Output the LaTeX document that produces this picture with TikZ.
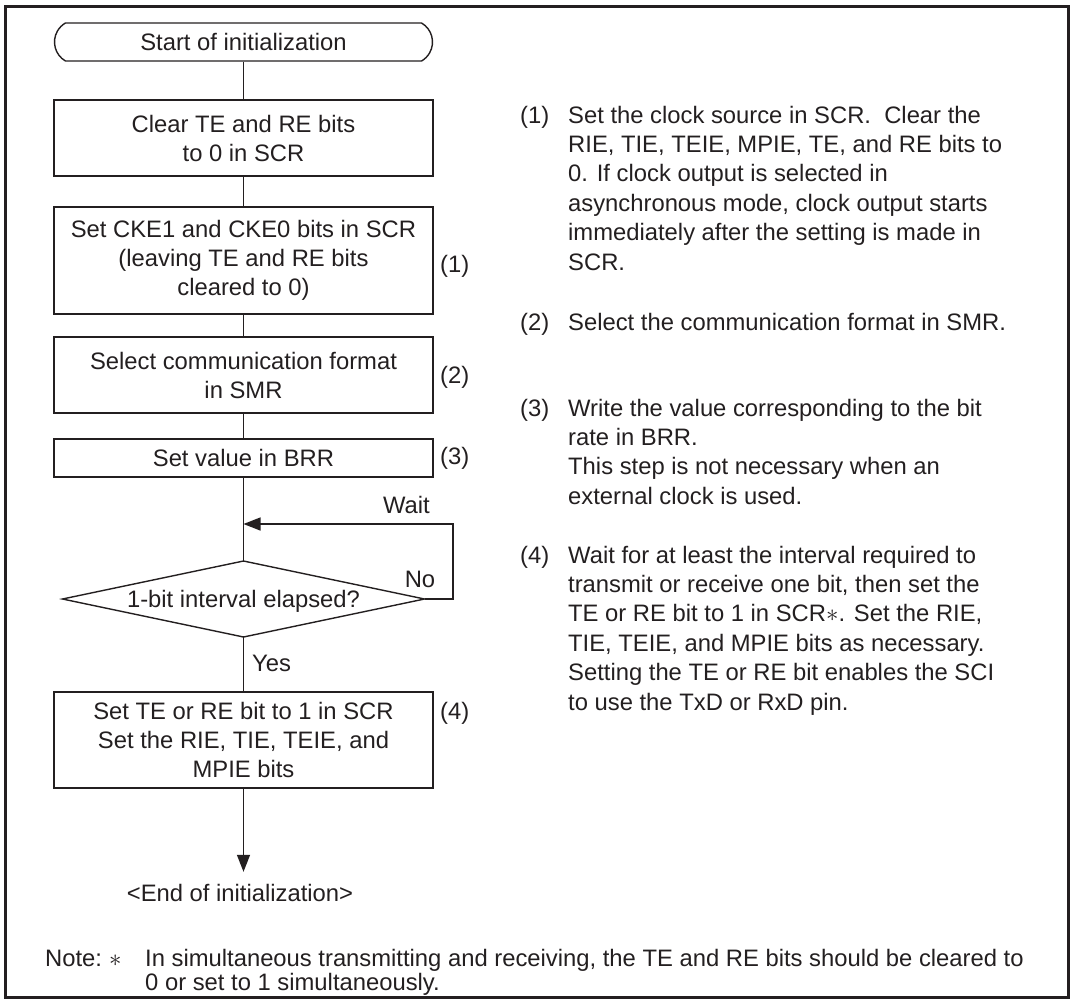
\documentclass[tikz,border=0pt]{standalone}
\usepackage{fontspec}
\setmainfont{Liberation Sans}
\usetikzlibrary{arrows.meta,shapes.misc}
\definecolor{ink}{RGB}{35,31,32}
\begin{document}
\begin{tikzpicture}[x=1pt,y=-1pt,
  txt/.style={font=\fontsize{23.8}{29}\selectfont, text=ink, inner sep=0pt},
  box/.style={txt, draw=ink, line width=1.4pt, minimum width=379pt, align=center},
  conn/.style={draw=ink, line width=1.4pt},
  arr/.style={conn, -{Triangle[length=17pt,width=13pt]}},
  rl/.style={txt, anchor=base west}]
\useasboundingbox (0,0) rectangle (1074,1002);
\draw[ink, line width=3pt] (5,6) rectangle (1068,997);

% flowchart
\node[box, rounded rectangle, rounded rectangle arc length=120, minimum width=378pt, minimum height=38pt] (start) at (243.5,42) {Start of initialization};
\node[box, minimum height=76pt] (b1) at (243.5,138) {Clear TE and RE bits\\to 0 in SCR};
\node[box, minimum height=107pt] (b2) at (243.5,260.5) {Set CKE1 and CKE0 bits in SCR\\(leaving TE and RE bits\\cleared to 0)};
\node[box, minimum height=76pt] (b3) at (243.5,375) {Select communication format\\in SMR};
\node[box, minimum height=38pt] (b4) at (243.5,458) {Set value in BRR};
\node[txt] (dec) at (243.5,601) {1-bit interval elapsed?};
\coordinate (dT) at (243.5,561);
\coordinate (dB) at (243.5,637);
\coordinate (dL) at (62.5,599);
\coordinate (dR) at (424.5,599);
\draw[conn] (dL) -- (dT) -- (dR) -- (dB) -- cycle;
\node[box, minimum height=96pt] (b5) at (243.5,740) {Set TE or RE bit to 1 in SCR\\Set the RIE, TIE, TEIE, and\\MPIE bits};
\node[txt, minimum height=42pt] (end) at (240,893) {<End of initialization>};

\draw[conn] (start.south) -- (b1.north);
\draw[conn] (b1.south) -- (b2.north);
\draw[conn] (b2.south) -- (b3.north);
\draw[conn] (b3.south) -- (b4.north);
\draw[conn] (b4.south) -- (dT);
\draw[conn] (dB) -- (b5.north);
\draw[arr] (b5.south) -- (b5.south |- end.north);
\coordinate (lp) at (453,524);
\draw[arr] (dR) -- (dR -| lp) -- (lp) -- (lp -| dT);

% flow labels
\node[txt, anchor=west] (n1) at (440,266) {(1)};
\node[txt, anchor=west] (n2) at (440,377) {(2)};
\node[txt, anchor=west] (n3) at (440,458) {(3)};
\node[txt, anchor=west] (n4) at (440,713) {(4)};
\node[txt, anchor=east] (wait) at (430,505) {Wait};
\node[txt] (no) at (420,579) {No};
\node[txt, anchor=west] (yes) at (252,663) {Yes};

% right-hand explanations
\node[rl] (r1) at (520,123) {(1)};
\foreach \t [count=\i] in {{Set the clock source in SCR.\ \ Clear the},{RIE, TIE, TEIE, MPIE, TE, and RE bits to},{0. If clock output is selected in},{asynchronous mode, clock output starts},{immediately after the setting is made in},{SCR.}}
  \node[rl] (r1-\i) at (568,{123+29.4*(\i-1)}) {\t};
\node[rl] (r2) at (520,330) {(2)};
\node[rl] (r2-1) at (568,330) {Select the communication format in SMR.};
\node[rl] (r3) at (520,416) {(3)};
\foreach \t [count=\i] in {{Write the value corresponding to the bit},{rate in BRR.},{This step is not necessary when an},{external clock is used.}}
  \node[rl] (r3-\i) at (568,{416+29.4*(\i-1)}) {\t};
\node[rl] (r4) at (520,563) {(4)};
\foreach \t [count=\i] in {{Wait for at least the interval required to},{transmit or receive one bit, then set the},{TE or RE bit to 1 in SCR$\ast$. Set the RIE,},{TIE, TEIE, and MPIE bits as necessary.},{Setting the TE or RE bit enables the SCI},{to use the TxD or RxD pin.}}
  \node[rl] (r4-\i) at (568,{563+29.4*(\i-1)}) {\t};

% note
\node[rl] (note) at (45,966) {Note:};
\node[rl] (ast) at (109,966) {$\ast$};
\node[rl] (nt1) at (145,966) {In simultaneous transmitting and receiving, the TE and RE bits should be cleared to};
\node[rl] (nt2) at (145,990) {0 or set to 1 simultaneously.};
\end{tikzpicture}
\end{document}
